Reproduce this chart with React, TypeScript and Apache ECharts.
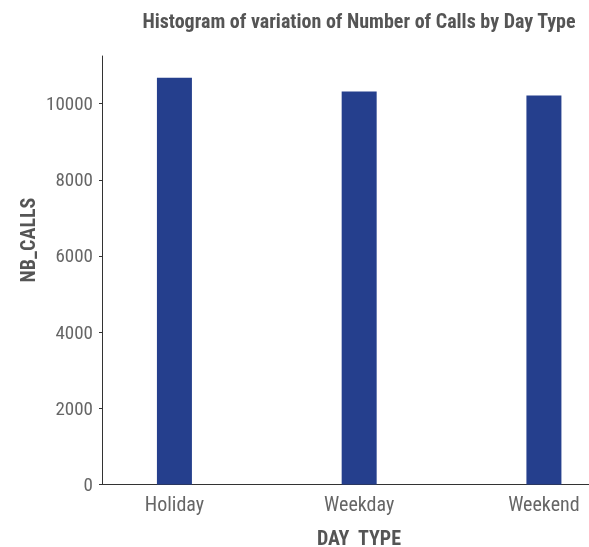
import React, { useEffect, useRef } from 'react';
import * as echarts from 'echarts';

const categories = ['Holiday', 'Weekday', 'Weekend'];
const nbCalls = [10680, 10320, 10210];
const yTicks = [0, 2000, 4000, 6000, 8000, 10000];
const xPositions = [1, 2, 3];

const FONT = "'Liberation Sans Narrow', 'Roboto Condensed', 'DejaVu Sans Condensed', sans-serif";

export default function App() {
  const ref = useRef<HTMLDivElement>(null);
  useEffect(() => {
    const chart = echarts.init(ref.current!, null, { renderer: 'svg' });
    chart.setOption({
      animation: false,
      title: {
        text: 'Histogram of variation of Number of Calls by Day Type',
        left: 354,
        top: 6,
        textAlign: 'center',
        textStyle: { fontSize: 20, fontWeight: 'bold', color: '#555', fontFamily: FONT },
      },
      grid: { left: 102, right: 0, top: 56, bottom: 62.5, containLabel: false },
      xAxis: {
        type: 'value',
        min: 0.608,
        max: 3.244,
        axisLine: { show: true, lineStyle: { color: '#333', width: 1 } },
        axisTick: { show: false },
        splitLine: { show: false },
        axisLabel: {
          customValues: xPositions,
          formatter: (v: number) => categories[xPositions.indexOf(v)] ?? '',
          color: '#666',
          fontSize: 20,
          fontFamily: FONT,
          margin: 9,
        },
      },
      yAxis: {
        type: 'value',
        min: 0,
        max: 11250,
        axisLine: { show: true, lineStyle: { color: '#333', width: 1 } },
        axisTick: { show: true, length: 3, customValues: yTicks, lineStyle: { color: '#333' } },
        splitLine: { show: false },
        axisLabel: {
          customValues: yTicks,
          formatter: (v: number) => String(v),
          color: '#666',
          fontSize: 19,
          fontFamily: FONT,
          margin: 9,
        },
      },
      graphic: [
        {
          type: 'text',
          x: 28,
          y: 240,
          rotation: Math.PI / 2,
          style: {
            text: 'NB_CALLS',
            fill: '#555',
            font: `bold 20px ${FONT}`,
            align: 'center',
            verticalAlign: 'middle',
          },
        },
        {
          type: 'text',
          x: 359,
          y: 538,
          style: {
            text: 'DAY  TYPE',
            fill: '#555',
            font: `bold 20px ${FONT}`,
            align: 'center',
            verticalAlign: 'middle',
          },
        },
      ],
      series: [
        {
          type: 'bar',
          barWidth: 35,
          data: xPositions.map((x, i) => [x, nbCalls[i]]),
          itemStyle: { color: '#253F8D' },
        },
      ],
    });
    return () => chart.dispose();
  }, []);
  return <div ref={ref} style={{ position: 'fixed', left: 0, top: 0, width: 589, height: 547 }} />;
}
